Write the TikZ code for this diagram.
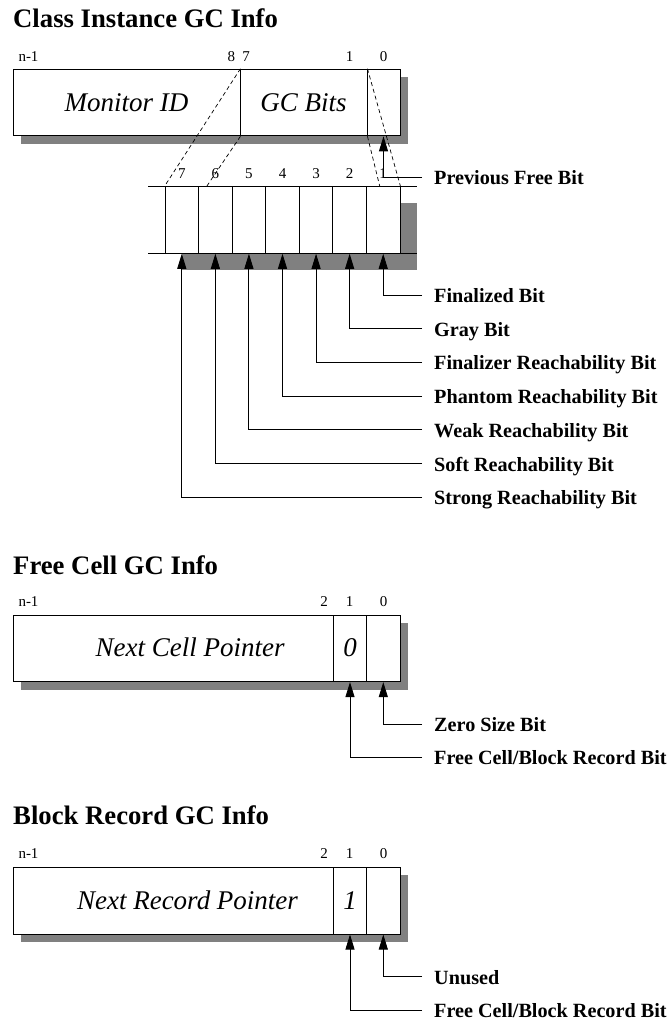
\documentclass[tikz,border=0pt]{standalone}
\usepackage{fontspec}
\setmainfont{Liberation Serif}
\usetikzlibrary{arrows.meta, positioning, calc}
\definecolor{shade}{HTML}{808080}
\tikzset{
  regtitle/.style={anchor=base west, font=\fontsize{26.7}{30}\selectfont\bfseries, inner sep=0pt},
  bitnum/.style={anchor=base, font=\fontsize{15}{18}\selectfont, inner sep=0pt},
  fieldtext/.style={font=\fontsize{27}{30}\selectfont\itshape, text height=17pt, text depth=0pt, inner sep=0pt},
  fieldbox/.style={rectangle, draw, fill=white, line width=0.9pt, inner sep=0pt, minimum height=66.7pt, fieldtext},
  ecell/.style={rectangle, draw, fill=white, line width=0.9pt, inner sep=0pt, minimum width=33.57pt, minimum height=66.6pt},
  shadowbox/.style={fill=shade},
  bitlab/.style={anchor=base west, font=\fontsize{20.2}{24}\selectfont\bfseries, inner sep=0pt},
  zoomline/.style={dash pattern=on 4pt off 3pt, line width=0.7pt},
  bitarrow/.style={-{Triangle[length=15pt,width=9pt]}, line width=0.9pt},
}
\begin{document}
\begin{tikzpicture}[x=1pt,y=-1pt]
  \useasboundingbox (0,0) rectangle (667,1020);

  % class instance gc info
  \node[regtitle] (ttlA) at (13,27.3) {Class Instance GC Info};
  \fill[shadowbox] (21,77) rectangle (408,144);
  \node[fieldbox, minimum width=227pt] (mon) at (126.5,102.5) {Monitor ID};
  \node[fieldbox, minimum width=127pt] (gcb) at (303.5,102.5) {GC Bits};
  \node[fieldbox, minimum width=33pt] (topz) at (383.5,102.5) {};
  \node[bitnum, anchor=base west] (nA) at (18.3,61.7) {n-1};
  \node[bitnum] (nA8) at (231.3,61.7) {8};
  \node[bitnum] (nA7) at (246,61.7) {7};
  \node[bitnum] (nA1) at (349.7,61.7) {1};
  \node[bitnum] (nA0) at (383.7,61.7) {0};

  % expanded gc bits
  \fill[shadowbox] (182,203.4) rectangle (417,270);
  \foreach \i in {1,...,7}{
    \node[ecell] (e\i) at ({400-33.57*(\i-0.5)},220) {};
    \node[bitnum] (en\i) at ({400-33.57*(\i-0.5)},178.3) {\i};
  }
  \draw[line width=0.9pt] (148,186.7) -- (417,186.7);
  \draw[line width=0.9pt] (148,253.3) -- (417,253.3);

  \draw[zoomline] (mon.north east) -- (e7.north west);
  \draw[zoomline] (mon.south east) -- ($(e6.north west)!0.25!(e6.north east)$);
  \draw[zoomline] (gcb.north east) -- (e1.north east);
  \draw[zoomline] (gcb.south east) -- ($(e1.north west)!0.4!(e1.north east)$);

  \coordinate (prv) at (422,177.3);
  \node[bitlab] (lprv) at ([xshift=12pt,yshift=-7.5pt]prv) {Previous Free Bit};
  \draw[bitarrow] (prv) -| (topz.south);

  \foreach \i/\txt in {1/Finalized Bit, 2/Gray Bit, 3/Finalizer Reachability Bit,
      4/Phantom Reachability Bit, 5/Weak Reachability Bit,
      6/Soft Reachability Bit, 7/Strong Reachability Bit}{
    \coordinate (r\i) at (422,{295+33.7*(\i-1)});
    \node[bitlab] (l\i) at ([xshift=12pt,yshift=-7.5pt]r\i) {\txt};
    \draw[bitarrow] (r\i) -| (e\i.south);
  }

  % free cell gc info
  \node[regtitle] (ttlB) at (13,574) {Free Cell GC Info};
  \fill[shadowbox] (21,623) rectangle (408,690);
  \node[fieldbox, minimum width=320pt,
    label={[fieldtext, xshift=17pt]center:Next Cell Pointer}] (fptr) at (173,648.3) {};
  \node[fieldbox, minimum width=33.7pt] (fb1) at (350,648.3) {0};
  \node[fieldbox, minimum width=33.3pt] (fb0) at (383.3,648.3) {};
  \node[bitnum, anchor=base west] (nB) at (18.3,606.7) {n-1};
  \node[bitnum] (nB2) at (324,606.7) {2};
  \node[bitnum] (nB1) at (349.7,606.7) {1};
  \node[bitnum] (nB0) at (383.7,606.7) {0};

  \coordinate (zsz) at (422,724);
  \node[bitlab] (lzsz) at ([xshift=12pt,yshift=-7.5pt]zsz) {Zero Size Bit};
  \draw[bitarrow] (zsz) -| (fb0.south);
  \coordinate (fcb) at (422,757.3);
  \node[bitlab] (lfcb) at ([xshift=12pt,yshift=-7.5pt]fcb) {Free Cell/Block Record Bit};
  \draw[bitarrow] (fcb) -| (fb1.south);

  % block record gc info
  \node[regtitle] (ttlC) at (13,824) {Block Record GC Info};
  \fill[shadowbox] (21,875.3) rectangle (408,942);
  \node[fieldbox, minimum width=320pt,
    label={[fieldtext, xshift=14.5pt]center:Next Record Pointer}] (bptr) at (173,900.7) {};
  \node[fieldbox, minimum width=33.7pt] (bb1) at (350,900.7) {1};
  \node[fieldbox, minimum width=33.3pt] (bb0) at (383.3,900.7) {};
  \node[bitnum, anchor=base west] (nC) at (18.3,858) {n-1};
  \node[bitnum] (nC2) at (324,858) {2};
  \node[bitnum] (nC1) at (349.7,858) {1};
  \node[bitnum] (nC0) at (383.7,858) {0};

  \coordinate (unu) at (422,976.5);
  \node[bitlab] (lunu) at ([xshift=12pt,yshift=-7.5pt]unu) {Unused};
  \draw[bitarrow] (unu) -| (bb0.south);
  \coordinate (bcb) at (422,1010);
  \node[bitlab] (lbcb) at ([xshift=12pt,yshift=-7.5pt]bcb) {Free Cell/Block Record Bit};
  \draw[bitarrow] (bcb) -| (bb1.south);
\end{tikzpicture}
\end{document}
